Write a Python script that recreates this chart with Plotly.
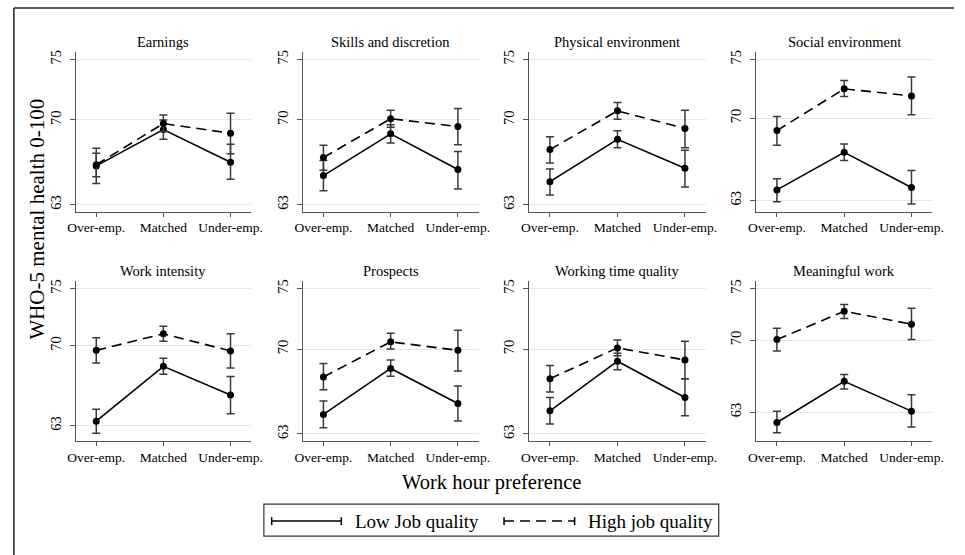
import plotly.graph_objects as go

# ---------------- data ----------------
categories = ["Over-emp.", "Matched", "Under-emp."]
panels = ["Earnings", "Skills and discretion", "Physical environment", "Social environment",
          "Work intensity", "Prospects", "Working time quality", "Meaningful work"]
tick_values = [63, 70, 75]
series_names = ["Low Job quality", "High job quality"]

low_mean = [
    [66.2, 69.2, 66.5],
    [65.4, 68.85, 65.9],
    [64.9, 68.4, 66.0],
    [63.9, 67.1, 64.1],
    [63.4, 68.2, 65.7],
    [64.6, 68.4, 65.5],
    [64.9, 69.0, 66.0],
    [62.0, 66.0, 63.1],
]
low_lo = [
    [65.3, 68.4, 65.1],
    [64.15, 68.1, 64.3],
    [63.8, 67.7, 64.45],
    [62.9, 66.4, 62.7],
    [62.35, 67.5, 64.05],
    [63.5, 67.75, 64.05],
    [63.8, 68.3, 64.5],
    [61.0, 65.25, 61.55],
]
low_hi = [
    [67.25, 70.0, 68.0],
    [66.65, 69.6, 67.4],
    [65.95, 69.1, 67.5],
    [64.85, 67.8, 65.55],
    [64.45, 68.9, 67.3],
    [65.7, 69.1, 66.95],
    [66.0, 69.65, 67.55],
    [63.1, 66.65, 64.7],
]
high_mean = [
    [66.3, 69.7, 68.9],
    [66.9, 70.1, 69.45],
    [67.55, 70.75, 69.3],
    [68.95, 72.5, 71.9],
    [69.6, 71.05, 69.55],
    [67.7, 70.6, 69.9],
    [67.55, 70.1, 69.1],
    [70.05, 72.8, 71.55],
]
high_lo = [
    [64.75, 69.05, 67.2],
    [65.85, 69.4, 67.95],
    [66.45, 70.05, 67.7],
    [67.7, 71.85, 70.3],
    [68.5, 70.4, 68.05],
    [66.65, 70.0, 68.2],
    [66.45, 69.45, 67.55],
    [68.95, 72.1, 70.05],
]
high_hi = [
    [67.65, 70.4, 70.55],
    [67.9, 70.8, 70.95],
    [68.6, 71.45, 70.8],
    [70.15, 73.2, 73.5],
    [70.7, 71.7, 71.05],
    [68.8, 71.3, 71.55],
    [68.65, 70.75, 70.65],
    [71.15, 73.45, 73.1],
]

# ---------------- layout helpers ----------------
W, H = 965, 555
FONT = "Liberation Serif"
col_px = [(69, 248), (300.7, 480), (531.7, 711.7), (763.3, 942.7)]
row_px = [(50, 211), (280, 441)]
y_ranges = [[62.37, 75.63], [62.37, 75.63], [62.37, 75.63], [62.0, 75.65],
            [61.63, 75.67], [62.37, 75.63], [62.37, 75.63], [60.16, 75.74]]

xpos = [1, 2, 3]

fig = go.Figure()
annotations = []
layout_axes = {}

for i, title in enumerate(panels):
    r, c = divmod(i, 4)
    n = i + 1
    xa = "x" if n == 1 else f"x{n}"
    ya = "y" if n == 1 else f"y{n}"
    xkey = "xaxis" if n == 1 else f"xaxis{n}"
    ykey = "yaxis" if n == 1 else f"yaxis{n}"
    x0, x1 = col_px[c]
    top, bot = row_px[r]

    for means, los, his, dash in [
        (low_mean[i], low_lo[i], low_hi[i], "solid"),
        (high_mean[i], high_lo[i], high_hi[i], "10px,6px"),
    ]:
        fig.add_trace(go.Scatter(
            x=xpos, y=means, xaxis=xa, yaxis=ya, mode="lines+markers",
            line=dict(color="black", width=1.6, dash=dash),
            marker=dict(color="black", size=7),
            error_y=dict(type="data", symmetric=False,
                         array=[h - m for h, m in zip(his, means)],
                         arrayminus=[m - l for m, l in zip(means, los)],
                         color="#3a3a3a", thickness=1.5, width=4),
            showlegend=False, hoverinfo="skip",
        ))

    layout_axes[xkey] = dict(
        domain=[x0 / W, x1 / W], anchor=ya, range=[0.693, 3.307],
        tickmode="array", tickvals=xpos, ticktext=categories,
        showgrid=False, zeroline=False, showline=True, linecolor="#555", linewidth=1,
        ticks="outside", ticklen=4, tickcolor="#555", tickwidth=1,
        tickfont=dict(family=FONT, size=13.5, color="black"),
        ticklabelstandoff=-1,
    )
    layout_axes[ykey] = dict(
        domain=[1 - bot / H, 1 - top / H], anchor=xa, range=y_ranges[i],
        tickmode="array", tickvals=tick_values, tickangle=-90,
        showgrid=True, gridcolor="#e6e6e6", gridwidth=1, zeroline=False,
        showline=True, linecolor="#555", linewidth=1,
        ticks="outside", ticklen=5, tickcolor="#555", tickwidth=1,
        tickfont=dict(family=FONT, size=14.5, color="black"),
        ticklabelstandoff=3,
    )
    annotations.append(dict(
        text=title, xref="paper", yref="paper",
        x=(x0 + x1) / 2 / W, y=1 - (top - 10) / H, xanchor="center", yanchor="middle",
        showarrow=False, font=dict(family=FONT, size=14.5, color="black"),
    ))

# axis titles
annotations.append(dict(
    text="WHO-5 mental health 0-100", xref="paper", yref="paper",
    x=30 / W, y=1 - 218 / H, textangle=-90, showarrow=False,
    xanchor="center", yanchor="middle", font=dict(family=FONT, size=21, color="black"),
))
annotations.append(dict(
    text="Work hour preference", xref="paper", yref="paper",
    x=493 / W, y=1 - 482 / H, showarrow=False,
    xanchor="center", yanchor="middle", font=dict(family=FONT, size=20.5, color="black"),
))

# legend (drawn manually to show error-bar style keys)
def px(x):
    return x / W

def py(y):
    return 1 - y / H

shapes = []
# outer frame (top and left edges visible in the picture)
shapes.append(dict(type="line", xref="paper", yref="paper",
                   x0=px(6), x1=1, y0=py(6), y1=py(6),
                   line=dict(color="#222", width=1.5)))
shapes.append(dict(type="line", xref="paper", yref="paper",
                   x0=px(6), x1=px(6), y0=0, y1=py(6),
                   line=dict(color="#222", width=1.5)))
# legend box
shapes.append(dict(type="rect", xref="paper", yref="paper",
                   x0=px(261), x1=px(725), y0=py(536), y1=py(504),
                   line=dict(color="#333", width=1.2), fillcolor="white"))
ly = 521
for (lx0, lx1, dash) in [(269, 340, "solid"), (506, 578, "10px,6px")]:
    shapes.append(dict(type="line", xref="paper", yref="paper",
                       x0=px(lx0), x1=px(lx1), y0=py(ly), y1=py(ly),
                       line=dict(color="black", width=1.5, dash=dash)))
    for cx in (lx0, lx1):
        shapes.append(dict(type="line", xref="paper", yref="paper",
                           x0=px(cx), x1=px(cx), y0=py(ly - 4), y1=py(ly + 4),
                           line=dict(color="black", width=1.5)))
for name, tx in zip(series_names, [352, 590]):
    annotations.append(dict(
        text=name, xref="paper", yref="paper", x=px(tx), y=py(ly),
        xanchor="left", yanchor="middle", showarrow=False,
        font=dict(family=FONT, size=19, color="black"),
    ))

fig.update_layout(
    width=W, height=H, margin=dict(l=0, r=0, t=0, b=0),
    paper_bgcolor="white", plot_bgcolor="white",
    showlegend=False, annotations=annotations, shapes=shapes,
    **layout_axes,
)

fig.write_html("out.html", config={"displayModeBar": False},
               post_script="document.body.style.margin='0';window.scrollTo(0,0);")
